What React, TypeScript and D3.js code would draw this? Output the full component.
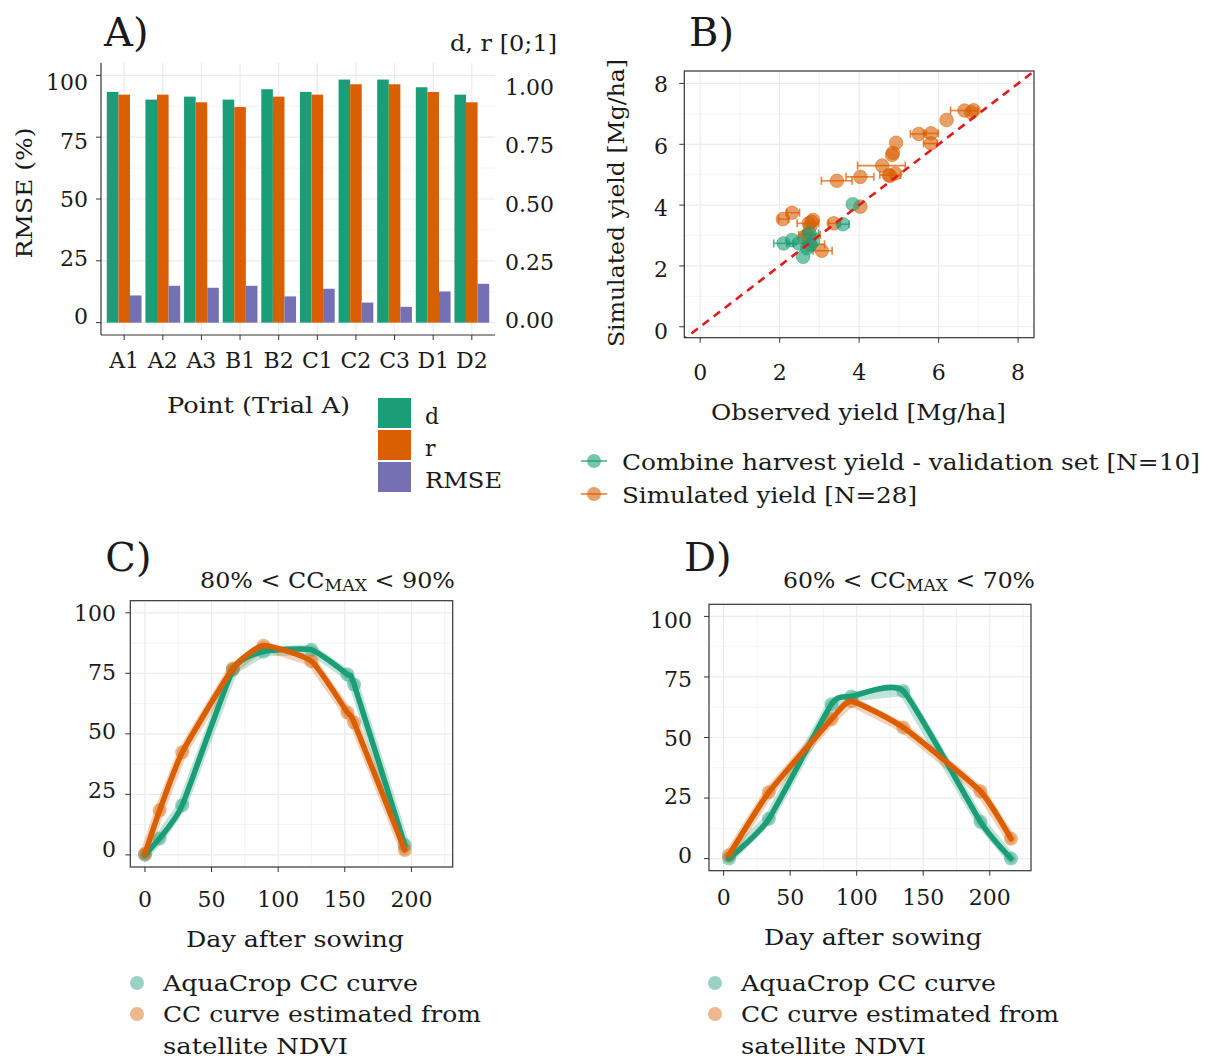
import React from "react";
import * as d3 from "d3";

const FONT = "'DejaVu Serif', serif";
const GREEN = "#1b9e77";
const ORANGE = "#d95f02";
const PURPLE = "#7570b3";
const GRID = "#ebebeb";
const AXIS = "#333333";
const FS = 22;

// Panel A
const pointsA = ["A1", "A2", "A3", "B1", "B2", "C1", "C2", "C3", "D1", "D2"];
const dVals = [0.933, 0.902, 0.914, 0.902, 0.944, 0.933, 0.983, 0.983, 0.952, 0.922];
const rVals = [0.922, 0.922, 0.891, 0.872, 0.914, 0.922, 0.964, 0.964, 0.933, 0.891];
const rmseVals = [11.0, 14.9, 14.1, 14.9, 10.6, 13.7, 8.1, 6.4, 12.6, 15.7];
const leftTicksA = [0, 25, 50, 75, 100];
const rightTicksA = [0, 0.25, 0.5, 0.75, 1.0];

// Panel B
const obsSim = [2.08, 2.31, 3.44, 4.03, 4.58, 4.74, 4.91, 4.83, 4.85, 4.93, 5.5, 5.81, 5.81, 6.2, 6.65, 6.82, 6.88, 4.03, 3.36, 2.84, 2.73, 2.77, 2.69, 3.06, 2.77, 2.8, 2.62, 4.78];
const simSim = [3.54, 3.75, 4.8, 4.93, 5.3, 4.99, 5.04, 5.65, 5.72, 6.05, 6.34, 6.36, 6.03, 6.8, 7.11, 7.05, 7.12, 3.95, 3.4, 3.51, 3.4, 3.29, 3.02, 2.5, 2.71, 3.45, 2.95, 4.96];
const obsSimMin = [1.97, 2.18, 3.05, 3.67, 3.96, 4.52, 4.91, 4.83, 4.85, 4.93, 5.29, 5.62, 5.62, 6.2, 6.3, 6.82, 6.88, 4.03, 3.23, 2.84, 2.44, 2.77, 2.48, 2.84, 2.6, 2.8, 2.62, 4.78];
const obsSimMax = [2.22, 2.5, 3.82, 4.37, 5.16, 5.04, 4.91, 4.83, 4.85, 4.93, 5.69, 5.99, 5.96, 6.2, 6.99, 6.82, 6.88, 4.03, 3.53, 2.84, 2.98, 2.77, 3.02, 3.32, 3.13, 2.8, 2.62, 4.78];
const obsVal = [2.1, 2.31, 2.48, 2.59, 2.75, 2.77, 2.84, 3.84, 3.59, 2.69];
const simVal = [2.74, 2.85, 2.74, 2.3, 3.07, 2.68, 2.82, 4.03, 3.37, 2.58];
const obsValMin = [1.85, 2.31, 2.18, 2.59, 2.6, 2.77, 2.84, 3.84, 3.48, 2.69];
const obsValMax = [2.35, 2.31, 2.6, 2.59, 2.98, 2.77, 2.84, 3.84, 3.74, 2.69];
const ticksB = [0, 2, 4, 6, 8];

// Panel C
const dayC = [0, 11, 28, 66, 89, 125, 152, 157, 195];
const aquaC = [0, 6.8, 20.5, 76.5, 84, 84.7, 74.5, 70.4, 4.1];
const ndviC = [0.5, 18.4, 42.4, 77, 86.4, 80, 58.8, 54.7, 2];
// Panel D
const dayD = [4, 34, 81, 96, 135, 193, 216];
const aquaD = [0, 16.4, 63.7, 66.9, 69.2, 15.2, 0];
const ndviD = [1.4, 27.4, 57.5, 65, 54.1, 27.8, 8.2];
const ticksCDx = [0, 50, 100, 150, 200];
const ticksCDy = [0, 25, 50, 75, 100];

const T = (p: any) => {
  const { tl, ...rest } = p;
  const extra = tl ? { textLength: tl, lengthAdjust: "spacingAndGlyphs" } : {};
  return <text fontFamily={FONT} fill="#1a1a1a" fontSize={FS} {...extra} {...rest} />;
};

function PanelA() {
  const x = d3.scalePoint<string>().domain(pointsA).range([101, 495]).padding(0.6);
  const y = d3.scaleLinear().domain([-5, 105]).range([335, 63]);
  const y2 = d3.scaleLinear().domain([-0.05, 1.05]).range([335, 63]);
  const labL = d3.scaleLinear().domain([0, 100]).range([316, 82]);
  const labR = d3.scaleLinear().domain([0, 1]).range([320, 87]);
  const step = x.step();
  const bw = (step * 0.9) / 3;
  const minor = [12.5, 37.5, 62.5, 87.5];
  const series = [
    { vals: dVals.map((v) => y2(v)), color: GREEN },
    { vals: rVals.map((v) => y2(v)), color: ORANGE },
    { vals: rmseVals.map((v) => y(v)), color: PURPLE },
  ];
  return (
    <g>
      {minor.map((v) => (
        <line key={"m" + v} x1={101} x2={495} y1={y(v)} y2={y(v)} stroke={GRID} strokeWidth={0.6} />
      ))}
      {leftTicksA.map((v) => (
        <line key={"g" + v} x1={101} x2={495} y1={y(v)} y2={y(v)} stroke={GRID} strokeWidth={1.2} />
      ))}
      {pointsA.map((p) => (
        <line key={"v" + p} x1={x(p)} x2={x(p)} y1={63} y2={335} stroke={GRID} strokeWidth={1.2} />
      ))}
      {series.map((s, si) =>
        pointsA.map((p, i) => {
          const x0 = (x(p) as number) - 1.5 * bw + si * bw;
          return <rect key={si + p} x={x0} y={s.vals[i]} width={bw} height={y(0) - s.vals[i]} fill={s.color} />;
        })
      )}
      <line x1={101} x2={101} y1={63} y2={335} stroke={AXIS} strokeWidth={1.2} />
      <line x1={101} x2={495} y1={335} y2={335} stroke={AXIS} strokeWidth={1.2} />
      {leftTicksA.map((v) => (
        <g key={"t" + v}>
          <line x1={96} x2={101} y1={y(v)} y2={y(v)} stroke={AXIS} />
          <T x={88} y={labL(v) + 8} textAnchor="end">{v}</T>
        </g>
      ))}
      {rightTicksA.map((v) => (
        <T key={"r" + v} x={505} y={labR(v) + 8} textAnchor="start">{v.toFixed(2)}</T>
      ))}
      {pointsA.map((p) => (
        <g key={"xt" + p}>
          <line x1={x(p)} x2={x(p)} y1={335} y2={340} stroke={AXIS} />
          <T x={x(p)} y={368} textAnchor="middle">{p}</T>
        </g>
      ))}
      <T x={104} y={46} fontSize={40}>A)</T>
      <T x={450} y={51} tl={107}>d, r [0;1]</T>
      <T transform="translate(32,193) rotate(-90)" textAnchor="middle" tl={131}>RMSE (%)</T>
      <T x={167} y={413} tl={183}>Point (Trial A)</T>
      {[
        { c: GREEN, l: "d", w: 0 },
        { c: ORANGE, l: "r", w: 0 },
        { c: PURPLE, l: "RMSE", w: 77 },
      ].map((e, i) => (
        <g key={e.l}>
          <rect x={378} y={398 + i * 32} width={33} height={30} fill={e.c} />
          <T x={425} y={424 + i * 32} tl={e.w || undefined}>{e.l}</T>
        </g>
      ))}
    </g>
  );
}

function PanelB() {
  const L = 684.3, R = 1034, TOP = 71, B = 337.7;
  const x = d3.scaleLinear().domain([-0.4, 8.4]).range([L, R]);
  const y = d3.scaleLinear().domain([-0.36, 8.41]).range([B, TOP]);
  const labY = d3.scaleLinear().domain([0, 8]).range([331, 84]);
  const minor = [1, 3, 5, 7];
  const pts = (ox: number[], sy: number[], mn: number[], mx: number[], c: string) => (
    <g>
      {ox.map((v, i) =>
        mx[i] - mn[i] > 0.01 ? (
          <g key={"e" + i} stroke={c} strokeOpacity={0.75} strokeWidth={1.6}>
            <line x1={x(mn[i])} x2={x(mx[i])} y1={y(sy[i])} y2={y(sy[i])} />
            <line x1={x(mn[i])} x2={x(mn[i])} y1={y(sy[i]) - 4} y2={y(sy[i]) + 4} />
            <line x1={x(mx[i])} x2={x(mx[i])} y1={y(sy[i]) - 4} y2={y(sy[i]) + 4} />
          </g>
        ) : null
      )}
      {ox.map((v, i) => (
        <circle key={"p" + i} cx={x(v)} cy={y(sy[i])} r={6.8} fill={c} fillOpacity={0.6} stroke={c} strokeOpacity={0.5} strokeWidth={1} />
      ))}
    </g>
  );
  return (
    <g>
      <defs>
        <clipPath id="clipB">
          <rect x={L} y={TOP} width={R - L} height={B - TOP} />
        </clipPath>
      </defs>
      {minor.map((v) => (
        <g key={"m" + v}>
          <line x1={L} x2={R} y1={y(v)} y2={y(v)} stroke={GRID} strokeWidth={0.6} />
          <line x1={x(v)} x2={x(v)} y1={TOP} y2={B} stroke={GRID} strokeWidth={0.6} />
        </g>
      ))}
      {ticksB.map((v) => (
        <g key={"g" + v}>
          <line x1={L} x2={R} y1={y(v)} y2={y(v)} stroke={GRID} strokeWidth={1.2} />
          <line x1={x(v)} x2={x(v)} y1={TOP} y2={B} stroke={GRID} strokeWidth={1.2} />
        </g>
      ))}
      {pts(obsSim, simSim, obsSimMin, obsSimMax, ORANGE)}
      {pts(obsVal, simVal, obsValMin, obsValMax, GREEN)}
      <line clipPath="url(#clipB)" x1={x(-0.5)} y1={y(-0.5)} x2={x(8.5)} y2={y(8.5)} stroke="#e31a1c" strokeWidth={2.6} strokeDasharray="8 6" />
      <rect x={L} y={TOP} width={R - L} height={B - TOP} fill="none" stroke={AXIS} strokeWidth={1.2} />
      {ticksB.map((v) => (
        <g key={"t" + v}>
          <line x1={L - 5} x2={L} y1={y(v)} y2={y(v)} stroke={AXIS} />
          <T x={668} y={labY(v) + 8} textAnchor="end">{v}</T>
          <line x1={x(v)} x2={x(v)} y1={B} y2={B + 5} stroke={AXIS} />
          <T x={x(v)} y={380} textAnchor="middle">{v}</T>
        </g>
      ))}
      <T x={689} y={46} fontSize={40}>B)</T>
      <T transform="translate(624,203) rotate(-90)" textAnchor="middle" tl={288}>Simulated yield [Mg/ha]</T>
      <T x={711} y={420} tl={295}>Observed yield [Mg/ha]</T>
      {[
        { c: GREEN, l: "Combine harvest yield - validation set [N=10]", w: 578 },
        { c: ORANGE, l: "Simulated yield [N=28]", w: 295 },
      ].map((e, i) => (
        <g key={e.l}>
          <line x1={581} x2={607} y1={461 + i * 33} y2={461 + i * 33} stroke={e.c} strokeWidth={1.6} strokeOpacity={0.8} />
          <circle cx={594} cy={461 + i * 33} r={7} fill={e.c} fillOpacity={0.6} />
          <T x={622} y={470 + i * 33} tl={e.w}>{e.l}</T>
        </g>
      ))}
    </g>
  );
}

function PanelCC(props: {
  L: number; R: number; TOP: number; B: number; days: number[]; aqua: number[]; ndvi: number[];
  label: string; lo: string; hi: string; titleX: number; titleW: number; ylabX: number; labLo: number; labHi: number;
  xtY: number; xlabX: number; xlabY: number; legX: number; id: string;
}) {
  const { L, R, TOP, B, days, aqua, ndvi } = props;
  const x = d3.scaleLinear().domain([-11, 231]).range([L, R]);
  const y = d3.scaleLinear().domain([-5, 105]).range([B, TOP]);
  const labY = d3.scaleLinear().domain([0, 100]).range([props.labLo, props.labHi]);
  const lin = d3.line<number>().x((_, i) => x(days[i])).y((v) => y(v));
  const smooth = d3.line<number>().x((_, i) => x(days[i])).y((v) => y(v)).curve(d3.curveCardinal.tension(0.5));
  const minorX = [25, 75, 125, 175, 225];
  const minorY = [12.5, 37.5, 62.5, 87.5];
  const series = [
    { v: aqua, c: GREEN },
    { v: ndvi, c: ORANGE },
  ];
  return (
    <g>
      <defs>
        <clipPath id={props.id}>
          <rect x={L} y={TOP} width={R - L} height={B - TOP} />
        </clipPath>
      </defs>
      {minorX.map((v) => (
        <line key={"mx" + v} x1={x(v)} x2={x(v)} y1={TOP} y2={B} stroke={GRID} strokeWidth={0.6} />
      ))}
      {minorY.map((v) => (
        <line key={"my" + v} x1={L} x2={R} y1={y(v)} y2={y(v)} stroke={GRID} strokeWidth={0.6} />
      ))}
      {ticksCDx.map((v) => (
        <line key={"gx" + v} x1={x(v)} x2={x(v)} y1={TOP} y2={B} stroke={GRID} strokeWidth={1.2} />
      ))}
      {ticksCDy.map((v) => (
        <line key={"gy" + v} x1={L} x2={R} y1={y(v)} y2={y(v)} stroke={GRID} strokeWidth={1.2} />
      ))}
      <g clipPath={`url(#${props.id})`}>
        {series.map((s) => (
          <g key={s.c}>
            <path d={lin(s.v) || ""} fill="none" stroke={s.c} strokeOpacity={0.28} strokeWidth={10} strokeLinejoin="round" strokeLinecap="round" />
            {s.v.map((v, i) => (
              <circle key={i} cx={x(days[i])} cy={y(v)} r={7} fill={s.c} fillOpacity={0.45} />
            ))}
          </g>
        ))}
        {series.map((s) => (
          <path key={"s" + s.c} d={smooth(s.v) || ""} fill="none" stroke={s.c} strokeWidth={5.5} strokeLinejoin="round" strokeLinecap="round" />
        ))}
      </g>
      <rect x={L} y={TOP} width={R - L} height={B - TOP} fill="none" stroke={AXIS} strokeWidth={1.2} />
      {ticksCDy.map((v) => (
        <g key={"ty" + v}>
          <line x1={L - 5} x2={L} y1={y(v)} y2={y(v)} stroke={AXIS} />
          <T x={props.ylabX} y={labY(v) + 8} textAnchor="end">{v}</T>
        </g>
      ))}
      {ticksCDx.map((v) => (
        <g key={"tx" + v}>
          <line x1={x(v)} x2={x(v)} y1={B} y2={B + 5} stroke={AXIS} />
          <T x={x(v)} y={props.xtY} textAnchor="middle">{v}</T>
        </g>
      ))}
      <T x={L - 25} y={571} fontSize={40}>{props.label}</T>
      <T x={props.titleX} y={588} tl={props.titleW}>
        {props.lo + " < CC"}
        <tspan fontSize={16} dy={3}>MAX</tspan>
        <tspan dy={-3}>{" < " + props.hi}</tspan>
      </T>
      <T x={props.xlabX} y={props.xlabY} tl={218}>Day after sowing</T>
      <circle cx={props.legX} cy={983} r={7} fill={GREEN} fillOpacity={0.45} />
      <circle cx={props.legX} cy={1014} r={7} fill={ORANGE} fillOpacity={0.45} />
      <T x={props.legX + 26} y={991} tl={255}>AquaCrop CC curve</T>
      <T x={props.legX + 26} y={1022} tl={318}>CC curve estimated from</T>
      <T x={props.legX + 26} y={1054} tl={185}>satellite NDVI</T>
    </g>
  );
}

export default function App() {
  return (
    <svg width={1213} height={1061} style={{ position: "absolute", left: 0, top: 0, background: "#fff" }}>
      <rect x={0} y={0} width={1213} height={1061} fill="#fff" />
      <PanelA />
      <PanelB />
      <PanelCC
        L={130.3} R={452.7} TOP={600.7} B={867} days={dayC} aqua={aquaC} ndvi={ndviC}
        label="C)" lo="80%" hi="90%" titleX={200} titleW={255} ylabX={116} labLo={849} labHi={613}
        xtY={907} xlabX={186} xlabY={947} legX={137} id="clipC"
      />
      <PanelCC
        L={709} R={1031} TOP={604.3} B={870.7} days={dayD} aqua={aquaD} ndvi={ndviD}
        label="D)" lo="60%" hi="70%" titleX={783} titleW={252} ylabX={692} labLo={855} labHi={620}
        xtY={905} xlabX={764} xlabY={945} legX={715} id="clipD"
      />
    </svg>
  );
}
